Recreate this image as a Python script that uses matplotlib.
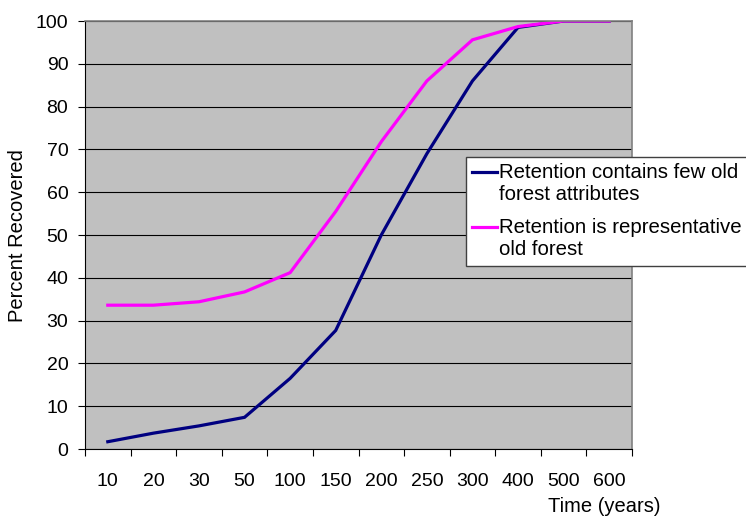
"""
percent of old forest structure recovered over time, by retention type
"""

import matplotlib
matplotlib.use("Agg")
from matplotlib import pyplot as plt
from matplotlib.legend_handler import HandlerLine2D

years = ["10", "20", "30", "50", "100", "150", "200", "250", "300", "400", "500", "600"]
few_old = [1.7, 3.7, 5.4, 7.4, 16.5, 27.7, 50.0, 69.0, 86.0, 98.5, 100, 100]
representative = [33.6, 33.6, 34.4, 36.7, 41.2, 55.5, 71.8, 86.0, 95.6, 98.7, 100, 100]
labels = ["Retention contains few old\nforest attributes",
          "Retention is representative\nold forest"]

LEG_FS = 14.7


class FirstLineHandler(HandlerLine2D):
    # put the legend key next to the first line of a two-line label
    def create_artists(self, legend, orig_handle, xdescent, ydescent, width,
                       height, fontsize, trans):
        artists = super().create_artists(legend, orig_handle, xdescent, ydescent,
                                         width, height, fontsize, trans)
        for a in artists:
            a.set_ydata([y + 0.6 * fontsize for y in a.get_ydata()])
        return artists


plt.rcParams["font.family"] = ["Liberation Sans", "DejaVu Sans"]

W, H = 746, 516
fig = plt.figure(figsize=(W / 100, H / 100), dpi=100)
ax = fig.add_axes([85 / W, 1 - 449 / H, 547 / W, 428 / H])
ax.set_facecolor("#c0c0c0")

x = list(range(len(years)))
l1, = ax.plot(x, few_old, color="#000080", lw=2.3, label=labels[0], solid_joinstyle="miter")
l2, = ax.plot(x, representative, color="#ff00ff", lw=2.3, label=labels[1], solid_joinstyle="miter")

ax.set_xlim(-0.5, len(years) - 0.5)
ax.set_ylim(0, 100)
ax.set_yticks(range(0, 101, 10))
ax.yaxis.grid(True, color="black", lw=0.8)
ax.set_axisbelow(True)

# category ticks between groups, labels centred
ax.set_xticks([i - 0.5 for i in range(len(years) + 1)])
ax.set_xticklabels([])
ax.set_xticks(x, minor=True)
ax.set_xticklabels(years, minor=True)
ax.tick_params(axis="x", which="major", length=5, width=0.8, direction="out")
ax.tick_params(axis="x", which="minor", length=0, pad=17, labelsize=14)
ax.tick_params(axis="y", length=5, width=0.8, pad=7, labelsize=14)

for side in ["left", "bottom"]:
    ax.spines[side].set_color("black")
    ax.spines[side].set_linewidth(0.8)
for side in ["top", "right"]:
    ax.spines[side].set_color("#808080")
    ax.spines[side].set_linewidth(1.2)

fig.text(18 / W, 1 - 236 / H, "Percent Recovered", rotation=90,
         ha="center", va="center", fontsize=14.5)
fig.text(660 / W, 1 - 507 / H, "Time (years)", ha="right", va="center", fontsize=14.5)

leg = fig.legend(handles=[l1, l2], loc="upper left", bbox_to_anchor=(466 / W, 1 - 157 / H),
                 fontsize=LEG_FS, frameon=True, fancybox=False, framealpha=1,
                 edgecolor="#404040", handlelength=1.2, handletextpad=0.1,
                 borderpad=0.3, labelspacing=0.7, borderaxespad=0,
                 handler_map={l1: FirstLineHandler(), l2: FirstLineHandler()})
leg.get_frame().set_linewidth(1.0)

plt.savefig("out.png", dpi=100)
